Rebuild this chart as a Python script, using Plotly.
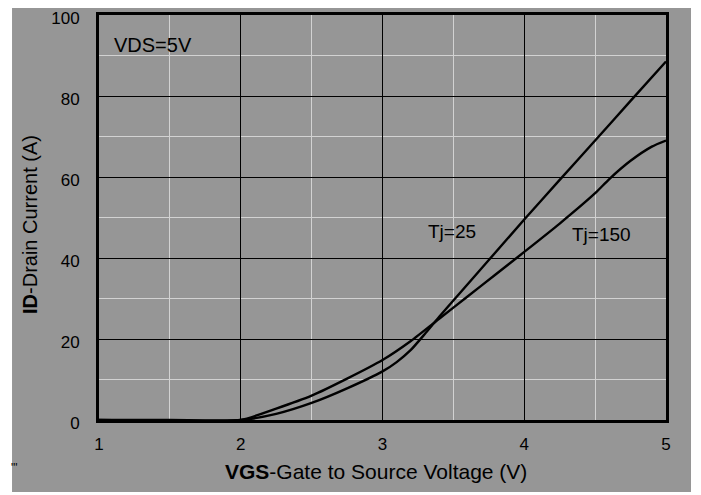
import plotly.graph_objects as go

vgs_25 = [1.0, 1.5, 2.0, 2.25, 2.5, 2.75, 3.0, 3.1, 3.2, 3.3, 3.4, 3.5, 3.75, 4.0, 4.25, 4.5, 4.75, 5.0]
id_25 = [0.0, 0.0, 0.0, 1.5, 4.2, 7.8, 12.0, 14.3, 17.3, 21.3, 25.5, 29.5, 39.5, 49.5, 59.3, 69.0, 78.8, 88.5]

vgs_150 = [1.0, 1.5, 2.0, 2.25, 2.5, 2.75, 3.0, 3.2, 3.4, 3.6, 3.8, 4.0, 4.25, 4.5, 4.6, 4.75, 4.9, 5.0]
id_150 = [0.0, -0.2, 0.0, 2.8, 6.0, 10.2, 14.8, 19.5, 25.0, 30.5, 36.0, 41.5, 48.5, 56.0, 59.5, 64.0, 67.5, 69.0]

x_ticks = [1, 2, 3, 4, 5]
y_ticks = [0, 20, 40, 60, 80, 100]

GRAY = "#969696"
FONT = "Liberation Sans, Arial, sans-serif"

fig = go.Figure()
fig.add_trace(go.Scatter(x=vgs_25, y=id_25, mode="lines",
                         line=dict(color="black", width=2.4, shape="spline", smoothing=0.6),
                         showlegend=False))
fig.add_trace(go.Scatter(x=vgs_150, y=id_150, mode="lines",
                         line=dict(color="black", width=2.4, shape="spline", smoothing=0.6),
                         showlegend=False))

# gray chart background
fig.add_shape(type="rect", xref="paper", yref="paper",
              x0=-0.1534, x1=1.0441, y0=-0.1778, y1=1.05,
              fillcolor=GRAY, line=dict(width=0), layer="below")

fig.add_annotation(x=1.09, y=92.6, text="VDS=5V", showarrow=False, xanchor="left",
                   font=dict(size=20, color="black", family=FONT))
fig.add_annotation(x=3.31, y=46.6, text="Tj=25", showarrow=False, xanchor="left",
                   font=dict(size=19, color="black", family=FONT))
fig.add_annotation(x=4.32, y=45.8, text="Tj=150", showarrow=False, xanchor="left",
                   font=dict(size=19, color="black", family=FONT))
# axis titles
fig.add_annotation(xref="paper", yref="paper", x=0.4885, y=-0.126,
                   text="<b>VGS</b>-Gate to Source Voltage (V)", showarrow=False,
                   xanchor="center", yanchor="middle",
                   font=dict(size=21, color="black", family=FONT))
fig.add_annotation(xref="paper", yref="paper", x=-0.1217, y=0.484,
                   text="<b>ID</b>-Drain Current (A)", showarrow=False, textangle=-90,
                   xanchor="center", yanchor="middle",
                   font=dict(size=20, color="black", family=FONT))
# stray marks
fig.add_annotation(xref="paper", yref="paper", x=-0.1587, y=-0.118, text="\"'",
                   showarrow=False, xanchor="left", yanchor="middle",
                   font=dict(size=12, color="black", family=FONT))
fig.add_annotation(xref="paper", yref="paper", x=1.0511, y=-0.118, text="\"",
                   showarrow=False, xanchor="center", yanchor="middle",
                   font=dict(size=12, color="black", family=FONT))

fig.update_xaxes(range=[1, 5], tickvals=x_ticks, ticktext=[str(v) for v in x_ticks],
                 showgrid=True, gridcolor="black", gridwidth=1,
                 minor=dict(dtick=0.5, showgrid=True, gridcolor="#d2d2d2", gridwidth=1),
                 showline=True, linecolor="black", linewidth=3, mirror=True,
                 zeroline=False, ticks="", ticklabelstandoff=7, automargin=False,
                 ticklabeloverflow="allow",
                 tickfont=dict(size=17, color="black", family=FONT))
fig.update_yaxes(range=[0, 100], tickvals=y_ticks, ticktext=[str(v) for v in y_ticks],
                 showgrid=True, gridcolor="black", gridwidth=1,
                 minor=dict(dtick=10, showgrid=True, gridcolor="#d2d2d2", gridwidth=1),
                 showline=True, linecolor="black", linewidth=3, mirror=True,
                 zeroline=False, ticks="", ticklabelstandoff=13, ticklabelshift=3,
                 automargin=False, ticklabeloverflow="allow",
                 tickfont=dict(size=17, color="black", family=FONT))

# the page body has an 8px margin, so the figure is drawn offset by (8, 8)
fig.update_layout(width=701, height=495,
                  margin=dict(l=91, r=43, t=7, b=83, autoexpand=False),
                  paper_bgcolor="white", plot_bgcolor=GRAY,
                  font=dict(family=FONT, color="black"))

fig.write_html("out.html")
